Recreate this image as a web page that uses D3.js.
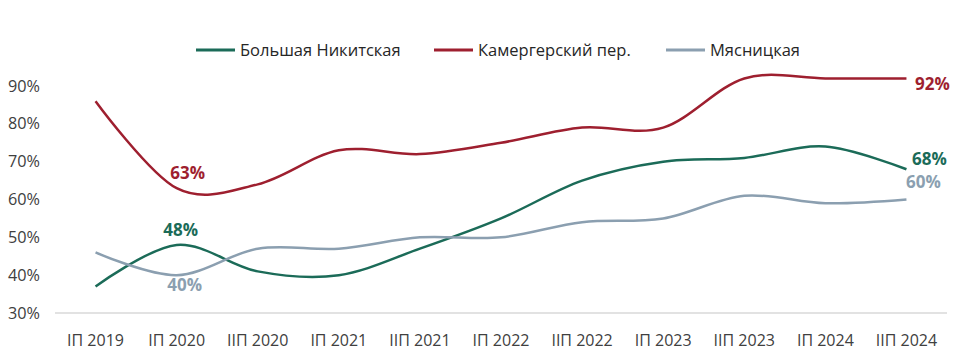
<!DOCTYPE html>
<html>
<head>
<meta charset="utf-8">
<script src="https://cdn.jsdelivr.net/npm/d3@7"></script>
<style>
  body { margin: 0; background: #fff; }
  text { font-family: "Open Sans", "Noto Sans", sans-serif; }
</style>
</head>
<body>
<div id="vis"></div>
<script>
// periods on the x axis
var periods = ["IП 2019", "IП 2020", "IIП 2020", "IП 2021", "IIП 2021", "IП 2022",
               "IIП 2022", "IП 2023", "IIП 2023", "IП 2024", "IIП 2024"];
// occupancy, %
var nikitskaya = [37, 48, 41, 40, 47, 55, 65, 70, 71, 74, 68];
var kamergersky = [86, 63, 64, 73, 72, 75, 79, 79, 92, 92, 92];
var myasnitskaya = [46, 40, 47, 47, 50, 50, 54, 55, 61, 59, 60];
var yTicks = [30, 40, 50, 60, 70, 80, 90];

var series = [
  {name: "Большая Никитская", values: nikitskaya, color: "#1b6b58"},
  {name: "Камергерский пер.", values: kamergersky, color: "#9e1f2f"},
  {name: "Мясницкая", values: myasnitskaya, color: "#8b9fb0"}
];

// which points get a value label: [series index, point index, dx, dy]
var callouts = [
  [1, 1, 11, -9], [0, 1, 4, -9], [2, 1, 8, 16],
  [1, 10, 26, 12], [0, 10, 23, -4], [2, 10, 17, -12]
];

var W = 964, H = 362;
var svg = d3.select("#vis").append("svg").attr("width", W).attr("height", H);

var x = d3.scaleBand().domain(periods).range([55, 947]);
var y = d3.scaleLinear().domain([30, 90]).range([313, 86]);

// x axis baseline
svg.append("line")
  .attr("x1", 55).attr("x2", 947)
  .attr("y1", y(30)).attr("y2", y(30))
  .attr("stroke", "#d9d9d9").attr("stroke-width", 1.5);

// y tick labels
svg.selectAll(".ytick").data(yTicks).enter().append("text")
  .attr("x", 40).attr("y", function(d){ return y(d) + 5.5; })
  .attr("text-anchor", "end")
  .attr("font-size", 16).attr("fill", "#404040")
  .attr("textLength", 32).attr("lengthAdjust", "spacingAndGlyphs")
  .text(function(d){ return d + "%"; });

// x tick labels
svg.selectAll(".xtick").data(periods).enter().append("text")
  .attr("x", function(d){ return x(d) + x.bandwidth() / 2; })
  .attr("y", 346)
  .attr("text-anchor", "middle")
  .attr("font-size", 16).attr("fill", "#404040")
  .text(function(d){ return d; });

var line = d3.line()
  .curve(d3.curveCardinal.tension(0))
  .x(function(d, i){ return x(periods[i]) + x.bandwidth() / 2; })
  .y(function(d){ return y(d); });

svg.selectAll(".series").data(series).enter().append("path")
  .attr("d", function(s){ return line(s.values); })
  .attr("fill", "none")
  .attr("stroke", function(s){ return s.color; })
  .attr("stroke-width", 2.5);

// value labels
callouts.forEach(function(c){
  var s = series[c[0]];
  var v = s.values[c[1]];
  svg.append("text")
    .attr("x", x(periods[c[1]]) + x.bandwidth() / 2 + c[2])
    .attr("y", y(v) + c[3])
    .attr("text-anchor", "middle")
    .attr("font-size", 17).attr("font-weight", "bold")
    .attr("fill", s.color)
    .text(v + "%");
});

// legend
var legendX = [196, 434, 666];
var lg = svg.selectAll(".legend").data(series).enter().append("g")
  .attr("transform", function(d, i){ return "translate(" + legendX[i] + ",50)"; });
lg.append("line")
  .attr("x1", 0).attr("x2", 39).attr("y1", 0).attr("y2", 0)
  .attr("stroke", function(d){ return d.color; }).attr("stroke-width", 3);
lg.append("text")
  .attr("x", 44).attr("y", 6)
  .attr("font-size", 16.5).attr("fill", "#262626")
  .text(function(d){ return d.name; });
</script>
</body>
</html>
